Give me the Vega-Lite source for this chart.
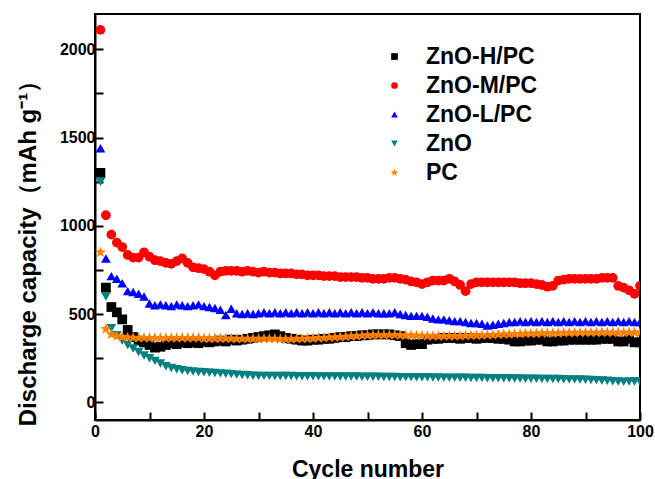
{
"$schema": "https://vega.github.io/schema/vega-lite/v6.json",
"width": 545, "height": 406,
"autosize": {"type": "none"},
"padding": {"left": 95, "top": 14, "right": 15, "bottom": 59},
"background": "white",
"config": {"view": {"stroke": "black", "strokeWidth": 2}, "font": "Liberation Sans", "axis": {"zindex": 1}},
"data": {"values": [
{"s":"ZnO-H/PC","c":1,"v":1300},{"s":"ZnO-H/PC","c":2,"v":650},{"s":"ZnO-H/PC","c":3,"v":540},{"s":"ZnO-H/PC","c":4,"v":510},{"s":"ZnO-H/PC","c":5,"v":470},{"s":"ZnO-H/PC","c":6,"v":410},{"s":"ZnO-H/PC","c":7,"v":370},{"s":"ZnO-H/PC","c":8,"v":350},{"s":"ZnO-H/PC","c":9,"v":340},{"s":"ZnO-H/PC","c":10,"v":325},
{"s":"ZnO-H/PC","c":11,"v":310},{"s":"ZnO-H/PC","c":12,"v":315},{"s":"ZnO-H/PC","c":13,"v":325},{"s":"ZnO-H/PC","c":14,"v":335},{"s":"ZnO-H/PC","c":15,"v":330},{"s":"ZnO-H/PC","c":16,"v":340},{"s":"ZnO-H/PC","c":17,"v":335},{"s":"ZnO-H/PC","c":18,"v":340},{"s":"ZnO-H/PC","c":19,"v":335},{"s":"ZnO-H/PC","c":20,"v":345},
{"s":"ZnO-H/PC","c":21,"v":340},{"s":"ZnO-H/PC","c":22,"v":345},{"s":"ZnO-H/PC","c":23,"v":350},{"s":"ZnO-H/PC","c":24,"v":345},{"s":"ZnO-H/PC","c":25,"v":355},{"s":"ZnO-H/PC","c":26,"v":350},{"s":"ZnO-H/PC","c":27,"v":355},{"s":"ZnO-H/PC","c":28,"v":360},{"s":"ZnO-H/PC","c":29,"v":365},{"s":"ZnO-H/PC","c":30,"v":370},
{"s":"ZnO-H/PC","c":31,"v":375},{"s":"ZnO-H/PC","c":32,"v":380},{"s":"ZnO-H/PC","c":33,"v":385},{"s":"ZnO-H/PC","c":34,"v":375},{"s":"ZnO-H/PC","c":35,"v":365},{"s":"ZnO-H/PC","c":36,"v":360},{"s":"ZnO-H/PC","c":37,"v":355},{"s":"ZnO-H/PC","c":38,"v":350},{"s":"ZnO-H/PC","c":39,"v":350},{"s":"ZnO-H/PC","c":40,"v":355},
{"s":"ZnO-H/PC","c":41,"v":355},{"s":"ZnO-H/PC","c":42,"v":360},{"s":"ZnO-H/PC","c":43,"v":360},{"s":"ZnO-H/PC","c":44,"v":365},{"s":"ZnO-H/PC","c":45,"v":370},{"s":"ZnO-H/PC","c":46,"v":370},{"s":"ZnO-H/PC","c":47,"v":375},{"s":"ZnO-H/PC","c":48,"v":375},{"s":"ZnO-H/PC","c":49,"v":380},{"s":"ZnO-H/PC","c":50,"v":380},
{"s":"ZnO-H/PC","c":51,"v":385},{"s":"ZnO-H/PC","c":52,"v":385},{"s":"ZnO-H/PC","c":53,"v":385},{"s":"ZnO-H/PC","c":54,"v":385},{"s":"ZnO-H/PC","c":55,"v":380},{"s":"ZnO-H/PC","c":56,"v":375},{"s":"ZnO-H/PC","c":57,"v":335},{"s":"ZnO-H/PC","c":58,"v":325},{"s":"ZnO-H/PC","c":59,"v":330},{"s":"ZnO-H/PC","c":60,"v":330},
{"s":"ZnO-H/PC","c":61,"v":355},{"s":"ZnO-H/PC","c":62,"v":360},{"s":"ZnO-H/PC","c":63,"v":360},{"s":"ZnO-H/PC","c":64,"v":365},{"s":"ZnO-H/PC","c":65,"v":365},{"s":"ZnO-H/PC","c":66,"v":365},{"s":"ZnO-H/PC","c":67,"v":360},{"s":"ZnO-H/PC","c":68,"v":365},{"s":"ZnO-H/PC","c":69,"v":365},{"s":"ZnO-H/PC","c":70,"v":360},
{"s":"ZnO-H/PC","c":71,"v":365},{"s":"ZnO-H/PC","c":72,"v":365},{"s":"ZnO-H/PC","c":73,"v":365},{"s":"ZnO-H/PC","c":74,"v":360},{"s":"ZnO-H/PC","c":75,"v":360},{"s":"ZnO-H/PC","c":76,"v":355},{"s":"ZnO-H/PC","c":77,"v":345},{"s":"ZnO-H/PC","c":78,"v":345},{"s":"ZnO-H/PC","c":79,"v":350},{"s":"ZnO-H/PC","c":80,"v":350},
{"s":"ZnO-H/PC","c":81,"v":355},{"s":"ZnO-H/PC","c":82,"v":355},{"s":"ZnO-H/PC","c":83,"v":345},{"s":"ZnO-H/PC","c":84,"v":345},{"s":"ZnO-H/PC","c":85,"v":350},{"s":"ZnO-H/PC","c":86,"v":350},{"s":"ZnO-H/PC","c":87,"v":355},{"s":"ZnO-H/PC","c":88,"v":355},{"s":"ZnO-H/PC","c":89,"v":355},{"s":"ZnO-H/PC","c":90,"v":355},
{"s":"ZnO-H/PC","c":91,"v":355},{"s":"ZnO-H/PC","c":92,"v":355},{"s":"ZnO-H/PC","c":93,"v":360},{"s":"ZnO-H/PC","c":94,"v":360},{"s":"ZnO-H/PC","c":95,"v":360},{"s":"ZnO-H/PC","c":96,"v":345},{"s":"ZnO-H/PC","c":97,"v":345},{"s":"ZnO-H/PC","c":98,"v":360},{"s":"ZnO-H/PC","c":99,"v":340},{"s":"ZnO-H/PC","c":100,"v":340},
{"s":"ZnO-M/PC","c":1,"v":2110},{"s":"ZnO-M/PC","c":2,"v":1060},{"s":"ZnO-M/PC","c":3,"v":950},{"s":"ZnO-M/PC","c":4,"v":905},{"s":"ZnO-M/PC","c":5,"v":880},{"s":"ZnO-M/PC","c":6,"v":835},{"s":"ZnO-M/PC","c":7,"v":820},{"s":"ZnO-M/PC","c":8,"v":820},{"s":"ZnO-M/PC","c":9,"v":850},{"s":"ZnO-M/PC","c":10,"v":825},
{"s":"ZnO-M/PC","c":11,"v":805},{"s":"ZnO-M/PC","c":12,"v":800},{"s":"ZnO-M/PC","c":13,"v":790},{"s":"ZnO-M/PC","c":14,"v":785},{"s":"ZnO-M/PC","c":15,"v":800},{"s":"ZnO-M/PC","c":16,"v":815},{"s":"ZnO-M/PC","c":17,"v":790},{"s":"ZnO-M/PC","c":18,"v":765},{"s":"ZnO-M/PC","c":19,"v":760},{"s":"ZnO-M/PC","c":20,"v":755},
{"s":"ZnO-M/PC","c":21,"v":740},{"s":"ZnO-M/PC","c":22,"v":720},{"s":"ZnO-M/PC","c":23,"v":740},{"s":"ZnO-M/PC","c":24,"v":745},{"s":"ZnO-M/PC","c":25,"v":745},{"s":"ZnO-M/PC","c":26,"v":745},{"s":"ZnO-M/PC","c":27,"v":740},{"s":"ZnO-M/PC","c":28,"v":745},{"s":"ZnO-M/PC","c":29,"v":740},{"s":"ZnO-M/PC","c":30,"v":735},
{"s":"ZnO-M/PC","c":31,"v":740},{"s":"ZnO-M/PC","c":32,"v":735},{"s":"ZnO-M/PC","c":33,"v":735},{"s":"ZnO-M/PC","c":34,"v":730},{"s":"ZnO-M/PC","c":35,"v":730},{"s":"ZnO-M/PC","c":36,"v":730},{"s":"ZnO-M/PC","c":37,"v":725},{"s":"ZnO-M/PC","c":38,"v":725},{"s":"ZnO-M/PC","c":39,"v":720},{"s":"ZnO-M/PC","c":40,"v":720},
{"s":"ZnO-M/PC","c":41,"v":720},{"s":"ZnO-M/PC","c":42,"v":715},{"s":"ZnO-M/PC","c":43,"v":715},{"s":"ZnO-M/PC","c":44,"v":715},{"s":"ZnO-M/PC","c":45,"v":710},{"s":"ZnO-M/PC","c":46,"v":710},{"s":"ZnO-M/PC","c":47,"v":710},{"s":"ZnO-M/PC","c":48,"v":710},{"s":"ZnO-M/PC","c":49,"v":705},{"s":"ZnO-M/PC","c":50,"v":705},
{"s":"ZnO-M/PC","c":51,"v":700},{"s":"ZnO-M/PC","c":52,"v":700},{"s":"ZnO-M/PC","c":53,"v":700},{"s":"ZnO-M/PC","c":54,"v":705},{"s":"ZnO-M/PC","c":55,"v":705},{"s":"ZnO-M/PC","c":56,"v":700},{"s":"ZnO-M/PC","c":57,"v":695},{"s":"ZnO-M/PC","c":58,"v":685},{"s":"ZnO-M/PC","c":59,"v":680},{"s":"ZnO-M/PC","c":60,"v":670},
{"s":"ZnO-M/PC","c":61,"v":680},{"s":"ZnO-M/PC","c":62,"v":690},{"s":"ZnO-M/PC","c":63,"v":690},{"s":"ZnO-M/PC","c":64,"v":690},{"s":"ZnO-M/PC","c":65,"v":700},{"s":"ZnO-M/PC","c":66,"v":685},{"s":"ZnO-M/PC","c":67,"v":665},{"s":"ZnO-M/PC","c":68,"v":630},{"s":"ZnO-M/PC","c":69,"v":670},{"s":"ZnO-M/PC","c":70,"v":680},
{"s":"ZnO-M/PC","c":71,"v":680},{"s":"ZnO-M/PC","c":72,"v":680},{"s":"ZnO-M/PC","c":73,"v":680},{"s":"ZnO-M/PC","c":74,"v":680},{"s":"ZnO-M/PC","c":75,"v":680},{"s":"ZnO-M/PC","c":76,"v":680},{"s":"ZnO-M/PC","c":77,"v":680},{"s":"ZnO-M/PC","c":78,"v":675},{"s":"ZnO-M/PC","c":79,"v":675},{"s":"ZnO-M/PC","c":80,"v":675},
{"s":"ZnO-M/PC","c":81,"v":670},{"s":"ZnO-M/PC","c":82,"v":665},{"s":"ZnO-M/PC","c":83,"v":655},{"s":"ZnO-M/PC","c":84,"v":660},{"s":"ZnO-M/PC","c":85,"v":690},{"s":"ZnO-M/PC","c":86,"v":695},{"s":"ZnO-M/PC","c":87,"v":700},{"s":"ZnO-M/PC","c":88,"v":700},{"s":"ZnO-M/PC","c":89,"v":700},{"s":"ZnO-M/PC","c":90,"v":700},
{"s":"ZnO-M/PC","c":91,"v":700},{"s":"ZnO-M/PC","c":92,"v":700},{"s":"ZnO-M/PC","c":93,"v":705},{"s":"ZnO-M/PC","c":94,"v":705},{"s":"ZnO-M/PC","c":95,"v":705},{"s":"ZnO-M/PC","c":96,"v":660},{"s":"ZnO-M/PC","c":97,"v":650},{"s":"ZnO-M/PC","c":98,"v":635},{"s":"ZnO-M/PC","c":99,"v":615},{"s":"ZnO-M/PC","c":100,"v":660},
{"s":"ZnO-L/PC","c":1,"v":1440},{"s":"ZnO-L/PC","c":2,"v":815},{"s":"ZnO-L/PC","c":3,"v":715},{"s":"ZnO-L/PC","c":4,"v":700},{"s":"ZnO-L/PC","c":5,"v":675},{"s":"ZnO-L/PC","c":6,"v":630},{"s":"ZnO-L/PC","c":7,"v":625},{"s":"ZnO-L/PC","c":8,"v":615},{"s":"ZnO-L/PC","c":9,"v":600},{"s":"ZnO-L/PC","c":10,"v":560},
{"s":"ZnO-L/PC","c":11,"v":550},{"s":"ZnO-L/PC","c":12,"v":555},{"s":"ZnO-L/PC","c":13,"v":550},{"s":"ZnO-L/PC","c":14,"v":545},{"s":"ZnO-L/PC","c":15,"v":555},{"s":"ZnO-L/PC","c":16,"v":550},{"s":"ZnO-L/PC","c":17,"v":545},{"s":"ZnO-L/PC","c":18,"v":550},{"s":"ZnO-L/PC","c":19,"v":555},{"s":"ZnO-L/PC","c":20,"v":545},
{"s":"ZnO-L/PC","c":21,"v":540},{"s":"ZnO-L/PC","c":22,"v":535},{"s":"ZnO-L/PC","c":23,"v":525},{"s":"ZnO-L/PC","c":24,"v":495},{"s":"ZnO-L/PC","c":25,"v":530},{"s":"ZnO-L/PC","c":26,"v":505},{"s":"ZnO-L/PC","c":27,"v":500},{"s":"ZnO-L/PC","c":28,"v":505},{"s":"ZnO-L/PC","c":29,"v":500},{"s":"ZnO-L/PC","c":30,"v":505},
{"s":"ZnO-L/PC","c":31,"v":510},{"s":"ZnO-L/PC","c":32,"v":505},{"s":"ZnO-L/PC","c":33,"v":510},{"s":"ZnO-L/PC","c":34,"v":505},{"s":"ZnO-L/PC","c":35,"v":510},{"s":"ZnO-L/PC","c":36,"v":505},{"s":"ZnO-L/PC","c":37,"v":510},{"s":"ZnO-L/PC","c":38,"v":505},{"s":"ZnO-L/PC","c":39,"v":510},{"s":"ZnO-L/PC","c":40,"v":505},
{"s":"ZnO-L/PC","c":41,"v":510},{"s":"ZnO-L/PC","c":42,"v":505},{"s":"ZnO-L/PC","c":43,"v":510},{"s":"ZnO-L/PC","c":44,"v":505},{"s":"ZnO-L/PC","c":45,"v":510},{"s":"ZnO-L/PC","c":46,"v":505},{"s":"ZnO-L/PC","c":47,"v":510},{"s":"ZnO-L/PC","c":48,"v":505},{"s":"ZnO-L/PC","c":49,"v":510},{"s":"ZnO-L/PC","c":50,"v":505},
{"s":"ZnO-L/PC","c":51,"v":510},{"s":"ZnO-L/PC","c":52,"v":505},{"s":"ZnO-L/PC","c":53,"v":505},{"s":"ZnO-L/PC","c":54,"v":505},{"s":"ZnO-L/PC","c":55,"v":510},{"s":"ZnO-L/PC","c":56,"v":500},{"s":"ZnO-L/PC","c":57,"v":495},{"s":"ZnO-L/PC","c":58,"v":490},{"s":"ZnO-L/PC","c":59,"v":490},{"s":"ZnO-L/PC","c":60,"v":490},
{"s":"ZnO-L/PC","c":61,"v":485},{"s":"ZnO-L/PC","c":62,"v":475},{"s":"ZnO-L/PC","c":63,"v":470},{"s":"ZnO-L/PC","c":64,"v":470},{"s":"ZnO-L/PC","c":65,"v":465},{"s":"ZnO-L/PC","c":66,"v":460},{"s":"ZnO-L/PC","c":67,"v":460},{"s":"ZnO-L/PC","c":68,"v":455},{"s":"ZnO-L/PC","c":69,"v":450},{"s":"ZnO-L/PC","c":70,"v":450},
{"s":"ZnO-L/PC","c":71,"v":445},{"s":"ZnO-L/PC","c":72,"v":435},{"s":"ZnO-L/PC","c":73,"v":440},{"s":"ZnO-L/PC","c":74,"v":445},{"s":"ZnO-L/PC","c":75,"v":450},{"s":"ZnO-L/PC","c":76,"v":455},{"s":"ZnO-L/PC","c":77,"v":455},{"s":"ZnO-L/PC","c":78,"v":460},{"s":"ZnO-L/PC","c":79,"v":455},{"s":"ZnO-L/PC","c":80,"v":460},
{"s":"ZnO-L/PC","c":81,"v":455},{"s":"ZnO-L/PC","c":82,"v":460},{"s":"ZnO-L/PC","c":83,"v":455},{"s":"ZnO-L/PC","c":84,"v":460},{"s":"ZnO-L/PC","c":85,"v":455},{"s":"ZnO-L/PC","c":86,"v":460},{"s":"ZnO-L/PC","c":87,"v":455},{"s":"ZnO-L/PC","c":88,"v":460},{"s":"ZnO-L/PC","c":89,"v":455},{"s":"ZnO-L/PC","c":90,"v":460},
{"s":"ZnO-L/PC","c":91,"v":455},{"s":"ZnO-L/PC","c":92,"v":460},{"s":"ZnO-L/PC","c":93,"v":455},{"s":"ZnO-L/PC","c":94,"v":460},{"s":"ZnO-L/PC","c":95,"v":455},{"s":"ZnO-L/PC","c":96,"v":460},{"s":"ZnO-L/PC","c":97,"v":455},{"s":"ZnO-L/PC","c":98,"v":460},{"s":"ZnO-L/PC","c":99,"v":455},{"s":"ZnO-L/PC","c":100,"v":455},
{"s":"ZnO","c":1,"v":1250},{"s":"ZnO","c":2,"v":600},{"s":"ZnO","c":3,"v":420},{"s":"ZnO","c":4,"v":380},{"s":"ZnO","c":5,"v":350},{"s":"ZnO","c":6,"v":325},{"s":"ZnO","c":7,"v":305},{"s":"ZnO","c":8,"v":285},{"s":"ZnO","c":9,"v":265},{"s":"ZnO","c":10,"v":250},
{"s":"ZnO","c":11,"v":235},{"s":"ZnO","c":12,"v":220},{"s":"ZnO","c":13,"v":205},{"s":"ZnO","c":14,"v":195},{"s":"ZnO","c":15,"v":188},{"s":"ZnO","c":16,"v":182},{"s":"ZnO","c":17,"v":178},{"s":"ZnO","c":18,"v":175},{"s":"ZnO","c":19,"v":172},{"s":"ZnO","c":20,"v":170},
{"s":"ZnO","c":21,"v":168},{"s":"ZnO","c":22,"v":166},{"s":"ZnO","c":23,"v":164},{"s":"ZnO","c":24,"v":162},{"s":"ZnO","c":25,"v":160},{"s":"ZnO","c":26,"v":157},{"s":"ZnO","c":27,"v":155},{"s":"ZnO","c":28,"v":153},{"s":"ZnO","c":29,"v":151},{"s":"ZnO","c":30,"v":150},
{"s":"ZnO","c":31,"v":150},{"s":"ZnO","c":32,"v":150},{"s":"ZnO","c":33,"v":149},{"s":"ZnO","c":34,"v":149},{"s":"ZnO","c":35,"v":149},{"s":"ZnO","c":36,"v":149},{"s":"ZnO","c":37,"v":148},{"s":"ZnO","c":38,"v":148},{"s":"ZnO","c":39,"v":148},{"s":"ZnO","c":40,"v":148},
{"s":"ZnO","c":41,"v":147},{"s":"ZnO","c":42,"v":147},{"s":"ZnO","c":43,"v":147},{"s":"ZnO","c":44,"v":147},{"s":"ZnO","c":45,"v":146},{"s":"ZnO","c":46,"v":146},{"s":"ZnO","c":47,"v":146},{"s":"ZnO","c":48,"v":146},{"s":"ZnO","c":49,"v":145},{"s":"ZnO","c":50,"v":145},
{"s":"ZnO","c":51,"v":145},{"s":"ZnO","c":52,"v":145},{"s":"ZnO","c":53,"v":144},{"s":"ZnO","c":54,"v":144},{"s":"ZnO","c":55,"v":144},{"s":"ZnO","c":56,"v":143},{"s":"ZnO","c":57,"v":143},{"s":"ZnO","c":58,"v":143},{"s":"ZnO","c":59,"v":142},{"s":"ZnO","c":60,"v":142},
{"s":"ZnO","c":61,"v":142},{"s":"ZnO","c":62,"v":141},{"s":"ZnO","c":63,"v":141},{"s":"ZnO","c":64,"v":140},{"s":"ZnO","c":65,"v":140},{"s":"ZnO","c":66,"v":140},{"s":"ZnO","c":67,"v":139},{"s":"ZnO","c":68,"v":139},{"s":"ZnO","c":69,"v":138},{"s":"ZnO","c":70,"v":138},
{"s":"ZnO","c":71,"v":138},{"s":"ZnO","c":72,"v":137},{"s":"ZnO","c":73,"v":137},{"s":"ZnO","c":74,"v":136},{"s":"ZnO","c":75,"v":136},{"s":"ZnO","c":76,"v":136},{"s":"ZnO","c":77,"v":135},{"s":"ZnO","c":78,"v":135},{"s":"ZnO","c":79,"v":134},{"s":"ZnO","c":80,"v":134},
{"s":"ZnO","c":81,"v":134},{"s":"ZnO","c":82,"v":133},{"s":"ZnO","c":83,"v":133},{"s":"ZnO","c":84,"v":132},{"s":"ZnO","c":85,"v":132},{"s":"ZnO","c":86,"v":131},{"s":"ZnO","c":87,"v":130},{"s":"ZnO","c":88,"v":130},{"s":"ZnO","c":89,"v":129},{"s":"ZnO","c":90,"v":128},
{"s":"ZnO","c":91,"v":127},{"s":"ZnO","c":92,"v":126},{"s":"ZnO","c":93,"v":124},{"s":"ZnO","c":94,"v":122},{"s":"ZnO","c":95,"v":120},{"s":"ZnO","c":96,"v":118},{"s":"ZnO","c":97,"v":117},{"s":"ZnO","c":98,"v":118},{"s":"ZnO","c":99,"v":118},{"s":"ZnO","c":100,"v":118},
{"s":"PC","c":1,"v":850},{"s":"PC","c":2,"v":415},{"s":"PC","c":3,"v":385},{"s":"PC","c":4,"v":375},{"s":"PC","c":5,"v":370},{"s":"PC","c":6,"v":368},{"s":"PC","c":7,"v":366},{"s":"PC","c":8,"v":365},{"s":"PC","c":9,"v":365},{"s":"PC","c":10,"v":365},
{"s":"PC","c":11,"v":365},{"s":"PC","c":12,"v":365},{"s":"PC","c":13,"v":365},{"s":"PC","c":14,"v":365},{"s":"PC","c":15,"v":365},{"s":"PC","c":16,"v":365},{"s":"PC","c":17,"v":365},{"s":"PC","c":18,"v":365},{"s":"PC","c":19,"v":365},{"s":"PC","c":20,"v":362},
{"s":"PC","c":21,"v":362},{"s":"PC","c":22,"v":362},{"s":"PC","c":23,"v":362},{"s":"PC","c":24,"v":362},{"s":"PC","c":25,"v":362},{"s":"PC","c":26,"v":360},{"s":"PC","c":27,"v":360},{"s":"PC","c":28,"v":360},{"s":"PC","c":29,"v":360},{"s":"PC","c":30,"v":360},
{"s":"PC","c":31,"v":360},{"s":"PC","c":32,"v":360},{"s":"PC","c":33,"v":360},{"s":"PC","c":34,"v":358},{"s":"PC","c":35,"v":358},{"s":"PC","c":36,"v":358},{"s":"PC","c":37,"v":360},{"s":"PC","c":38,"v":360},{"s":"PC","c":39,"v":362},{"s":"PC","c":40,"v":362},
{"s":"PC","c":41,"v":365},{"s":"PC","c":42,"v":365},{"s":"PC","c":43,"v":368},{"s":"PC","c":44,"v":368},{"s":"PC","c":45,"v":370},{"s":"PC","c":46,"v":372},{"s":"PC","c":47,"v":374},{"s":"PC","c":48,"v":376},{"s":"PC","c":49,"v":378},{"s":"PC","c":50,"v":380},
{"s":"PC","c":51,"v":380},{"s":"PC","c":52,"v":382},{"s":"PC","c":53,"v":382},{"s":"PC","c":54,"v":382},{"s":"PC","c":55,"v":382},{"s":"PC","c":56,"v":380},{"s":"PC","c":57,"v":380},{"s":"PC","c":58,"v":380},{"s":"PC","c":59,"v":378},{"s":"PC","c":60,"v":378},
{"s":"PC","c":61,"v":376},{"s":"PC","c":62,"v":376},{"s":"PC","c":63,"v":375},{"s":"PC","c":64,"v":375},{"s":"PC","c":65,"v":375},{"s":"PC","c":66,"v":376},{"s":"PC","c":67,"v":376},{"s":"PC","c":68,"v":378},{"s":"PC","c":69,"v":378},{"s":"PC","c":70,"v":380},
{"s":"PC","c":71,"v":380},{"s":"PC","c":72,"v":382},{"s":"PC","c":73,"v":382},{"s":"PC","c":74,"v":384},{"s":"PC","c":75,"v":385},{"s":"PC","c":76,"v":386},{"s":"PC","c":77,"v":388},{"s":"PC","c":78,"v":388},{"s":"PC","c":79,"v":390},{"s":"PC","c":80,"v":390},
{"s":"PC","c":81,"v":390},{"s":"PC","c":82,"v":392},{"s":"PC","c":83,"v":392},{"s":"PC","c":84,"v":392},{"s":"PC","c":85,"v":392},{"s":"PC","c":86,"v":394},{"s":"PC","c":87,"v":394},{"s":"PC","c":88,"v":394},{"s":"PC","c":89,"v":395},{"s":"PC","c":90,"v":395},
{"s":"PC","c":91,"v":395},{"s":"PC","c":92,"v":395},{"s":"PC","c":93,"v":396},{"s":"PC","c":94,"v":396},{"s":"PC","c":95,"v":396},{"s":"PC","c":96,"v":396},{"s":"PC","c":97,"v":396},{"s":"PC","c":98,"v":396},{"s":"PC","c":99,"v":396},{"s":"PC","c":100,"v":396}
]},
"mark": {"type": "point", "filled": true, "opacity": 1, "size": 95, "clip": true},
"encoding": {
  "x": {"field": "c", "type": "quantitative",
    "scale": {"domain": [0, 100], "nice": false, "zero": false},
    "axis": {"title": "Cycle number", "values": [0,10,20,30,40,50,60,70,80,90,100],
      "labelExpr": "datum.value % 20 === 0 ? datum.label : ''",
      "grid": false, "ticks": true, "domainColor": "black", "domainWidth": 2, "tickColor": "black", "tickWidth": 2, "tickOpacity": 1,
      "tickSize": -8,
      "encode": {"ticks": {"update": {"y2": {"signal": "datum.value % 20 === 0 ? -8 : -4"}}}},
      "labelFont": "Liberation Sans", "labelFontSize": 16, "labelFontWeight": "bold", "labelColor": "black",
      "labelPadding": 11, "labelFlush": false,
      "titleFont": "Liberation Sans", "titleFontSize": 23, "titleFontWeight": "bold", "titleColor": "black",
      "titleY": 56, "titleBaseline": "alphabetic"}},
  "y": {"field": "v", "type": "quantitative",
    "scale": {"domain": [-100, 2200], "nice": false, "zero": false},
    "axis": {"title": "Discharge capacity（mAh g⁻¹）", "values": [0,250,500,750,1000,1250,1500,1750,2000],
      "labelExpr": "datum.value % 500 === 0 ? datum.label : ''", "format": "d",
      "grid": false, "ticks": true, "domainColor": "black", "domainWidth": 2, "tickColor": "black", "tickWidth": 2, "tickOpacity": 1,
      "tickSize": -8,
      "encode": {"ticks": {"update": {"x2": {"signal": "datum.value % 500 === 0 ? 8 : 4"}}}},
      "labelFont": "Liberation Sans", "labelFontSize": 16, "labelFontWeight": "bold", "labelColor": "black",
      "labelPadding": 8, "labelFlush": false,
      "titleFont": "Liberation Sans", "titleFontSize": 24, "titleFontWeight": "bold", "titleColor": "black",
      "titleX": -67, "titleY": 233, "titleAngle": -90, "titleAlign": "center", "titleBaseline": "middle"}},
  "color": {"field": "s", "type": "nominal",
    "scale": {"domain": ["ZnO-H/PC","ZnO-M/PC","ZnO-L/PC","ZnO","PC"], "range": ["#000000","#ff0000","#0000ff","#008080","#ff8000"]},
    "legend": {"title": null, "orient": "none", "legendX": 288, "legendY": 31, "padding": 0,
      "symbolSize": 45, "labelOffset": 20, "rowPadding": 5,
      "labelFont": "Liberation Sans", "labelFontSize": 23, "labelFontWeight": "bold", "labelColor": "black", "labelLimit": 300}},
  "shape": {"field": "s", "type": "nominal",
    "scale": {"domain": ["ZnO-H/PC","ZnO-M/PC","ZnO-L/PC","ZnO","PC"], "range": ["square","circle","triangle-up","triangle-down","M0,-1.2L0.294,-0.405L1.141,-0.371L0.476,0.155L0.705,0.971L0,0.5L-0.705,0.971L-0.476,0.155L-1.141,-0.371L-0.294,-0.405Z"]}}
}
}
